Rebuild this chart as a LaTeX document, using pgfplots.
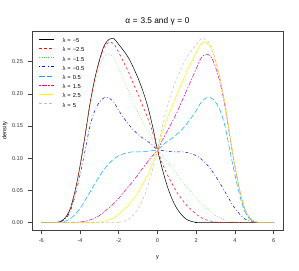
\documentclass[border=0pt]{standalone}
\usepackage{fontspec}
\setmainfont{Liberation Sans}
\usepackage{pgfplots}
\pgfplotsset{compat=1.18}
\definecolor{rgreen}{RGB}{0,205,0}
\definecolor{rgray}{RGB}{190,190,190}
\newcommand{\eqs}{\kern0.4pt=\kern0.4pt}
\begin{document}
\begin{tikzpicture}
\path[use as bounding box] (-32pt,-40pt) rectangle (267pt,230pt);
\begin{axis}[
  at={(0pt,0pt)}, anchor=south west,
  scale only axis, width=251pt, height=199pt,
  xmin=-6.48, xmax=6.48, ymin=-0.0114, ymax=0.2975,
  axis line style={black!75, line width=0.6pt},
  xtick={-6,-4,-2,0,2,4,6}, xticklabels={-6,-4,-2,0,2,4,6},
  ytick={0,0.05,0.1,0.15,0.2,0.25}, yticklabels={0.00,0.05,0.10,0.15,0.20,0.25},
  tick pos=left, tick align=outside, major tick length=4pt,
  tick style={black!75, line width=0.6pt},
  ticklabel style={font=\fontsize{5.6}{6}\selectfont, text=black!80},
  xticklabel style={yshift=-1pt},
  yticklabel style={xshift=-1.5pt},
  title={α \eqs{} 3.5 and γ \eqs{} 0},
  title style={font=\fontsize{8.3}{9}\selectfont, at={(axis description cs:0.5,1)}, anchor=base, yshift=1.6pt, inner sep=0pt},
  xlabel={y}, ylabel={density},
  xlabel style={font=\fontsize{5.6}{6}\selectfont, at={(axis description cs:0.5,-0.141)}, anchor=center, inner sep=0pt},
  ylabel style={font=\fontsize{5.6}{6}\selectfont, at={(axis description cs:-0.108,0.5)}, anchor=center, inner sep=0pt},
  legend style={draw=none, fill=none, at={(axis description cs:0,1)}, anchor=north west,
    xshift=7pt, yshift=-7.5pt, inner sep=0pt, outer sep=0pt,
    font=\fontsize{5.8}{6}\selectfont, row sep=4pt, column sep=8pt,
    nodes={inner sep=0pt, text height=4.2pt, text depth=1pt}},
  legend cell align=left,
  legend image code/.code={\draw[#1] (0pt,2pt) -- (15pt,2pt);},
  every axis plot/.append style={line width=0.5pt, smooth, tension=0.5},
]
% lambda = -5
\addplot[black] coordinates {(-6,0) (-5.5,0) (-5.25,0.0003) (-5,0.002) (-4.75,0.008) (-4.5,0.022) (-4.25,0.050) (-4,0.088) (-3.75,0.133) (-3.5,0.182) (-3.25,0.222) (-3,0.252) (-2.75,0.275) (-2.5,0.2845) (-2.25,0.2855) (-2,0.2765) (-1.75,0.267) (-1.5,0.256) (-1.25,0.241) (-1,0.224) (-0.75,0.204) (-0.5,0.180) (-0.25,0.149) (0,0.113) (0.25,0.083) (0.5,0.057) (0.75,0.037) (1,0.022) (1.25,0.012) (1.5,0.005) (1.75,0.002) (2,0.0005) (2.25,0) (6,0)};
\addlegendentry{λ \eqs{} −5}
% lambda = -2.5
\addplot[red, dash pattern=on 2.5pt off 2.5pt] coordinates {(-6,0) (-5.5,0) (-5.25,0.0003) (-5,0.002) (-4.75,0.008) (-4.5,0.022) (-4.25,0.050) (-4,0.088) (-3.75,0.133) (-3.5,0.182) (-3.25,0.2216) (-3,0.251) (-2.75,0.2725) (-2.5,0.280) (-2.25,0.2775) (-2,0.264) (-1.75,0.249) (-1.5,0.234) (-1.25,0.216) (-1,0.199) (-0.75,0.180) (-0.5,0.162) (-0.25,0.140) (0,0.113) (0.25,0.092) (0.5,0.075) (0.75,0.061) (1,0.047) (1.25,0.037) (1.5,0.027) (1.75,0.020) (2,0.013) (2.25,0.008) (2.5,0.0045) (2.75,0.0025) (3,0.001) (3.25,0.0004) (3.5,0) (6,0)};
\addlegendentry{λ \eqs{} −2.5}
% lambda = -1.5
\addplot[rgreen!75!white, dash pattern=on 0.5pt off 1.8pt] coordinates {(-6,0) (-5.5,0) (-5.25,0.0003) (-5,0.002) (-4.75,0.008) (-4.5,0.022) (-4.25,0.0496) (-4,0.087) (-3.75,0.131) (-3.5,0.178) (-3.25,0.215) (-3,0.241) (-2.75,0.258) (-2.5,0.2615) (-2.25,0.2555) (-2,0.239) (-1.75,0.222) (-1.5,0.205) (-1.25,0.188) (-1,0.171) (-0.75,0.156) (-0.5,0.142) (-0.25,0.128) (0,0.113) (0.25,0.104) (0.5,0.095) (0.75,0.085) (1,0.075) (1.25,0.065) (1.5,0.056) (1.75,0.047) (2,0.038) (2.25,0.030) (2.5,0.023) (2.75,0.017) (3,0.011) (3.25,0.007) (3.5,0.004) (3.75,0.002) (4,0.001) (4.25,0.0004) (4.5,0) (6,0)};
\addlegendentry{λ \eqs{} −1.5}
% lambda = -0.5
\addplot[blue, dash pattern=on 0.75pt off 2.25pt on 3pt off 2.25pt] coordinates {(-6,0) (-5.5,0) (-5.25,0.0002) (-5,0.0015) (-4.75,0.006) (-4.5,0.018) (-4.25,0.042) (-4,0.074) (-3.75,0.110) (-3.5,0.148) (-3.25,0.173) (-3,0.187) (-2.75,0.194) (-2.5,0.1935) (-2.25,0.1865) (-2,0.174) (-1.75,0.163) (-1.5,0.153) (-1.25,0.144) (-1,0.137) (-0.75,0.131) (-0.5,0.126) (-0.25,0.120) (0,0.113) (0.25,0.112) (0.5,0.111) (0.75,0.110) (1,0.110) (1.25,0.110) (1.5,0.109) (1.75,0.107) (2,0.104) (2.25,0.099) (2.5,0.092) (2.75,0.083) (3,0.072) (3.25,0.060) (3.5,0.047) (3.75,0.034) (4,0.022) (4.25,0.013) (4.5,0.006) (4.75,0.0025) (5,0.001) (5.25,0.0003) (5.5,0) (6,0)};
\addlegendentry{λ \eqs{} −0.5}
% lambda = 0.5
\addplot[cyan, dash pattern=on 5.25pt off 2.25pt] coordinates {(-6,0) (-5.5,0) (-5.25,0.0003) (-5,0.001) (-4.75,0.0025) (-4.5,0.006) (-4.25,0.013) (-4,0.022) (-3.75,0.034) (-3.5,0.047) (-3.25,0.060) (-3,0.072) (-2.75,0.083) (-2.5,0.092) (-2.25,0.099) (-2,0.104) (-1.75,0.107) (-1.5,0.109) (-1.25,0.110) (-1,0.110) (-0.75,0.110) (-0.5,0.111) (-0.25,0.112) (0,0.113) (0.25,0.120) (0.5,0.126) (0.75,0.131) (1,0.137) (1.25,0.144) (1.5,0.153) (1.75,0.163) (2,0.174) (2.25,0.1865) (2.5,0.1935) (2.75,0.194) (3,0.187) (3.25,0.173) (3.5,0.148) (3.75,0.110) (4,0.074) (4.25,0.042) (4.5,0.018) (4.75,0.006) (5,0.0015) (5.25,0.0002) (5.5,0) (6,0)};
\addlegendentry{λ \eqs{} 0.5}
% lambda = 1.5
\addplot[magenta, dash pattern=on 1.5pt off 1.5pt on 4.5pt off 1.5pt] coordinates {(-6,0) (-4.5,0) (-4.25,0.0004) (-4,0.001) (-3.75,0.002) (-3.5,0.004) (-3.25,0.007) (-3,0.011) (-2.75,0.017) (-2.5,0.023) (-2.25,0.030) (-2,0.038) (-1.75,0.047) (-1.5,0.056) (-1.25,0.065) (-1,0.075) (-0.75,0.085) (-0.5,0.095) (-0.25,0.104) (0,0.113) (0.25,0.128) (0.5,0.142) (0.75,0.156) (1,0.171) (1.25,0.188) (1.5,0.205) (1.75,0.222) (2,0.239) (2.25,0.2555) (2.5,0.2615) (2.75,0.258) (3,0.241) (3.25,0.215) (3.5,0.178) (3.75,0.131) (4,0.087) (4.25,0.0496) (4.5,0.022) (4.75,0.008) (5,0.002) (5.25,0.0003) (5.5,0) (6,0)};
\addlegendentry{λ \eqs{} 1.5}
% lambda = 2.5
\addplot[yellow] coordinates {(-6,0) (-3.5,0) (-3.25,0.0004) (-3,0.001) (-2.75,0.0025) (-2.5,0.0045) (-2.25,0.008) (-2,0.013) (-1.75,0.020) (-1.5,0.027) (-1.25,0.037) (-1,0.047) (-0.75,0.061) (-0.5,0.075) (-0.25,0.092) (0,0.113) (0.25,0.140) (0.5,0.162) (0.75,0.180) (1,0.199) (1.25,0.216) (1.5,0.234) (1.75,0.249) (2,0.264) (2.25,0.2775) (2.5,0.280) (2.75,0.2725) (3,0.251) (3.25,0.2216) (3.5,0.182) (3.75,0.133) (4,0.088) (4.25,0.050) (4.5,0.022) (4.75,0.008) (5,0.002) (5.25,0.0003) (5.5,0) (6,0)};
\addlegendentry{λ \eqs{} 2.5}
% lambda = 5
\addplot[rgray, dash pattern=on 2.5pt off 2.5pt] coordinates {(-6,0) (-2.25,0) (-2,0.0005) (-1.75,0.002) (-1.5,0.005) (-1.25,0.012) (-1,0.022) (-0.75,0.037) (-0.5,0.057) (-0.25,0.083) (0,0.113) (0.25,0.149) (0.5,0.180) (0.75,0.204) (1,0.224) (1.25,0.241) (1.5,0.256) (1.75,0.267) (2,0.2765) (2.25,0.2855) (2.5,0.2845) (2.75,0.275) (3,0.252) (3.25,0.222) (3.5,0.182) (3.75,0.133) (4,0.088) (4.25,0.050) (4.5,0.022) (4.75,0.008) (5,0.002) (5.25,0.0003) (5.5,0) (6,0)};
\addlegendentry{λ \eqs{} 5}
\end{axis}
\end{tikzpicture}
\end{document}
